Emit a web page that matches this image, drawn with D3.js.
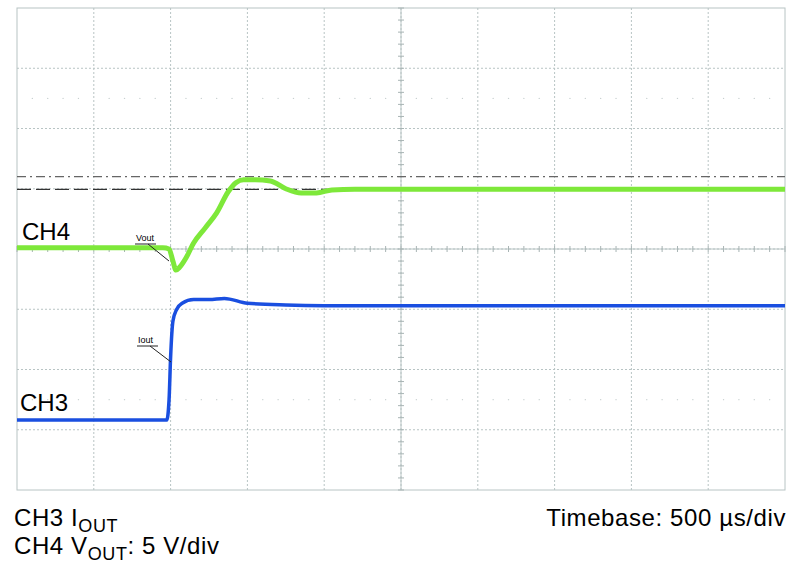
<!DOCTYPE html><html><head><meta charset="utf-8"><script src="https://cdn.jsdelivr.net/npm/d3@7"></script>
<style>body{margin:0;background:#fff}</style></head><body><svg id="c" width="801" height="581"></svg><script>
// time in divisions (500 µs/div), level in divisions relative to screen centre
const vT = [0,1.9,1.98,2.03,2.07,2.12,2.2,2.3,2.45,2.6,2.75,2.85,2.95,3.1,3.3,3.5,3.7,3.9,4.1,4.4,5,6,7,8,9,10];
const vY = [0.02,0.02,0,-0.2,-0.35,-0.3,-0.15,0.1,0.35,0.6,0.95,1.1,1.15,1.15,1.13,1.0,0.93,0.93,0.98,0.99,0.99,0.99,0.99,0.99,0.99,0.99];
const iT = [0,1.95,1.98,2.0,2.03,2.08,2.15,2.3,2.5,2.7,3.0,3.5,4,5,6,7,8,9,10];
const iY = [-2.84,-2.84,-2.5,-1.8,-1.2,-1.0,-0.9,-0.84,-0.84,-0.82,-0.9,-0.93,-0.94,-0.94,-0.94,-0.94,-0.94,-0.94,-0.94];
const refDash = 0.99, refDashDot = 1.2;
const xDivs = d3.range(0,11), yDivs = d3.range(-4,5);
const svg = d3.select("#c");
const x = d3.scaleLinear().domain([0,10]).range([17,785]);
const y = d3.scaleLinear().domain([-4,4]).range([490,8]);
const grid = svg.append("g").attr("stroke","#b8c4c4").attr("stroke-width",1).attr("stroke-dasharray","2,2");
grid.selectAll(".v").data(xDivs.slice(1,-1)).join("line").attr("x1",d=>x(d)).attr("x2",d=>x(d)).attr("y1",y(4)).attr("y2",y(-4));
grid.selectAll(".h").data(yDivs.slice(1,-1)).join("line").attr("y1",d=>y(d)).attr("y2",d=>y(d)).attr("x1",x(0)).attr("x2",x(10));
svg.append("rect").attr("x",x(0)).attr("y",y(4)).attr("width",x(10)-x(0)).attr("height",y(-4)-y(4)).attr("fill","none").attr("stroke","#b8c4c4");
const ticks = svg.append("g").attr("stroke","#a8b4b4");
ticks.append("line").attr("x1",x(5)).attr("x2",x(5)).attr("y1",y(4)).attr("y2",y(-4)).attr("stroke","#b8c4c4");
ticks.append("line").attr("x1",x(0)).attr("x2",x(10)).attr("y1",y(0)).attr("y2",y(0)).attr("stroke","#b8c4c4");
ticks.selectAll(".tx").data(d3.range(0,10.01,0.2)).join("line").attr("x1",d=>x(d)).attr("x2",d=>x(d)).attr("y1",y(0)-3).attr("y2",y(0)+3);
ticks.selectAll(".ty").data(d3.range(-4,4.01,0.2)).join("line").attr("y1",d=>y(d)).attr("y2",d=>y(d)).attr("x1",x(5)-3).attr("x2",x(5)+3);
[2.5,-2.5].forEach(r=>{svg.append("g").selectAll("circle").data(d3.range(0.2,10,0.2).filter(d=>Math.abs(d%1)>0.05&&Math.abs(d%1)<0.95)).join("circle").attr("cx",d=>x(d)).attr("cy",y(r)).attr("r",0.7).attr("fill","#c8d0d0");});
svg.append("line").attr("x1",x(0)).attr("x2",x(10)).attr("y1",y(refDashDot)).attr("y2",y(refDashDot)).attr("stroke","#666").attr("stroke-width",1.3).attr("stroke-dasharray","9,4,2,4");
svg.append("line").attr("x1",x(0)).attr("x2",x(10)).attr("y1",y(refDash)).attr("y2",y(refDash)).attr("stroke","#333").attr("stroke-width",1.3).attr("stroke-dasharray","14,5");
const line = d3.line().x(d=>x(d[0])).y(d=>y(d[1])).curve(d3.curveMonotoneX);
svg.append("path").attr("d",line(vT.map((t,i)=>[t,vY[i]]))).attr("fill","none").attr("stroke","#7ee83a").attr("stroke-width",5);
svg.append("path").attr("d",line(iT.map((t,i)=>[t,iY[i]]))).attr("fill","none").attr("stroke","#1a4fe0").attr("stroke-width",3.5);
const f="Liberation Sans, Arial, sans-serif";
svg.append("text").attr("x",22).attr("y",240).attr("font-family",f).attr("font-size",24).text("CH4");
svg.append("text").attr("x",20).attr("y",411).attr("font-family",f).attr("font-size",24).text("CH3");
function ann(tx,ty,lx,ly,s){svg.append("text").attr("x",tx).attr("y",ty).attr("font-family",f).attr("font-size",9).text(s);
 svg.append("line").attr("x1",tx-1).attr("x2",tx+20).attr("y1",ty+3).attr("y2",ty+3).attr("stroke","#222");
 svg.append("line").attr("x1",tx+12).attr("x2",lx).attr("y1",ty+3).attr("y2",ly).attr("stroke","#222");}
ann(136,241,169,261,"Vout"); ann(138,343,171,362,"Iout");
const bt = svg.append("g").attr("font-family",f).attr("font-size",24).attr("letter-spacing",0.6);
const t1=bt.append("text").attr("x",14).attr("y",526); t1.append("tspan").text("CH3 I"); t1.append("tspan").attr("font-size",18).attr("dy",6).text("OUT");
const t2=bt.append("text").attr("x",14).attr("y",554); t2.append("tspan").text("CH4 V"); t2.append("tspan").attr("font-size",18).attr("dy",6).text("OUT"); t2.append("tspan").attr("dy",-6).text(": 5 V/div");
bt.append("text").attr("x",786).attr("y",526).attr("text-anchor","end").text("Timebase: 500 µs/div");
</script></body></html>
